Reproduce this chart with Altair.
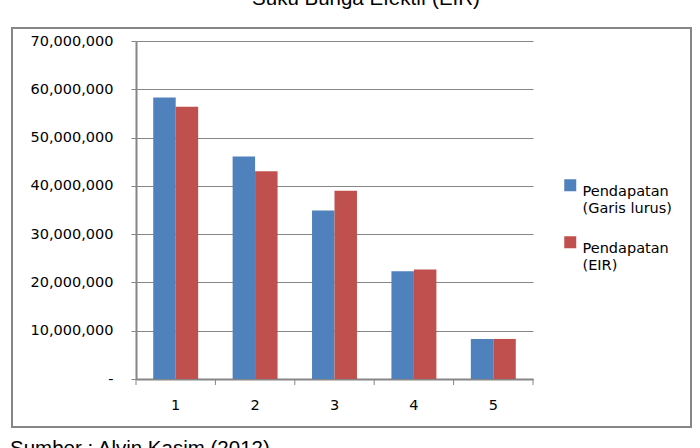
import altair as alt
import pandas as pd

periods = ["1", "2", "3", "4", "5"]
garis_lurus = [58300000, 46100000, 34900000, 22300000, 8300000]
eir = [56400000, 43000000, 39000000, 22700000, 8300000]
series = ["Pendapatan (Garis lurus)", "Pendapatan (EIR)"]
colors = ["#4F81BD", "#C0504D"]
y_ticks = [0, 10000000, 20000000, 30000000, 40000000, 50000000, 60000000, 70000000]
boundaries = [0, 1, 2, 3, 4, 5]
title_text = "Suku Bunga Efektif (EIR)"
source_text = "Sumber : Alvin Kasim (2012)"

rows = []
for i, p in enumerate(periods):
    rows.append({"periode": p, "seri": series[0], "nilai": garis_lurus[i]})
    rows.append({"periode": p, "seri": series[1], "nilai": eir[i]})
df = pd.DataFrame(rows)

W, H = 397, 338
FONT = "DejaVu Sans"
FS = 14.5
GRAY = "#868686"

bars = alt.Chart(df).mark_bar().encode(
    x=alt.X("periode:N", sort=periods,
            scale=alt.Scale(domain=periods, paddingInner=0.434, paddingOuter=0.217),
            axis=alt.Axis(title=None, labelAngle=0, ticks=False, grid=False,
                          domainColor=GRAY, domainWidth=2, labelPadding=19,
                          labelFont=FONT, labelFontSize=FS, labelColor="#000")),
    xOffset=alt.XOffset("seri:N", sort=series,
                        scale=alt.Scale(domain=series, paddingInner=0, paddingOuter=0)),
    y=alt.Y("nilai:Q", scale=alt.Scale(domain=[0, 70000000], nice=False),
            axis=alt.Axis(title=None, values=y_ticks,
                          labelExpr="datum.value == 0 ? '-\u00a0\u00a0' : format(datum.value, ',')",
                          tickSize=5, tickColor=GRAY, tickWidth=1,
                          gridColor=GRAY, gridWidth=1.2, gridOpacity=1,
                          domainColor=GRAY, domainWidth=2, labelPadding=18,
                          labelFont=FONT, labelFontSize=FS, labelColor="#000")),
    color=alt.Color("seri:N", sort=series,
                    scale=alt.Scale(domain=series, range=colors),
                    legend=alt.Legend(title=None, orient="none", legendX=427, legendY=137,
                                      symbolType="square", symbolSize=144, symbolStrokeWidth=0,
                                      symbolOpacity=1,
                                      labelFont=FONT, labelFontSize=FS, labelColor="#000",
                                      labelExpr="[substring(datum.label, 0, 10), substring(datum.label, 11)]",
                                      labelOffset=5, labelLimit=300, rowPadding=19,
                                      labelBaseline="top")),
)

ticks = alt.Chart(pd.DataFrame({"b": boundaries})).mark_rule(color=GRAY, strokeWidth=1).encode(
    x=alt.X("b:Q", scale=alt.Scale(domain=[0, 5], nice=False, zero=False), axis=None),
    y=alt.value(H),
    y2=alt.value(H + 6),
)

border = alt.Chart(alt.Data(values=[{"k": 1}])).mark_rect(
    filled=False, stroke=GRAY, strokeWidth=2
).encode(
    x=alt.value(-124), x2=alt.value(555), y=alt.value(-13), y2=alt.value(386)
)

title = alt.Chart(alt.Data(values=[{"t": title_text}])).mark_text(
    font="Liberation Sans", fontSize=20.5, color="#000", align="center", baseline="alphabetic"
).encode(text="t:N", x=alt.value(230), y=alt.value(-36))

source = alt.Chart(alt.Data(values=[{"t": source_text}])).mark_text(
    font="Liberation Sans", fontSize=20.5, color="#000", align="left", baseline="alphabetic"
).encode(text="t:N", x=alt.value(-126), y=alt.value(414))

chart = alt.layer(bars, ticks, border, title, source).resolve_scale(x="independent").properties(
    width=W, height=H,
    autosize=alt.AutoSizeParams(type="none"),
    padding={"left": 136, "top": 41, "right": 167, "bottom": 69},
    background="white",
).configure_view(stroke=None)

chart.save("out.html", embed_options={"renderer": "svg", "actions": False})
